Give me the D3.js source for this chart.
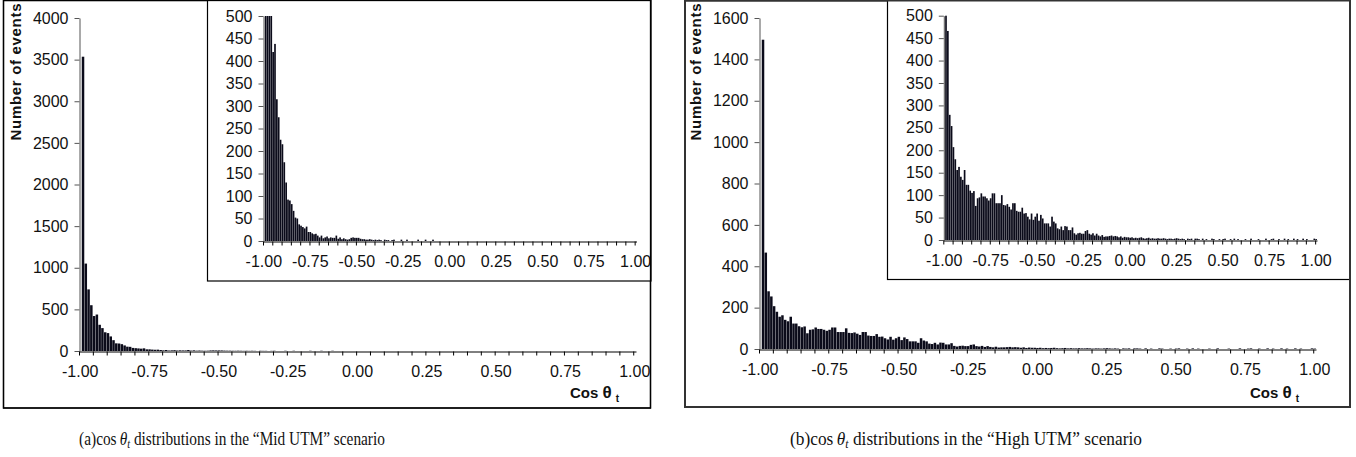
<!DOCTYPE html>
<html>
<head>
<meta charset="utf-8">
<script src="https://cdn.jsdelivr.net/npm/d3@7/dist/d3.min.js"></script>
<style>
  body { margin: 0; background: #fff; }
  svg { display: block; }
  .lbl { font-family: "Liberation Sans", Arial, sans-serif; fill: #111; }
  .cap { font-family: "Liberation Serif", "DejaVu Serif", serif; fill: #111; }
</style>
</head>
<body>
<svg id="chart" width="1356" height="457"></svg>
<script>
// histogram bins: cos(theta_t) from -1.00 to 1.00 in steps of 0.01 (201 categories)
var binLabels = d3.range(201).map(function (i) { return ((i - 100) / 100).toFixed(2); });

// "Mid UTM" scenario counts
var midCounts = [
  0, 3535, 1050, 740, 550, 420, 438, 315, 275, 225,
  215, 175, 130, 92, 90, 82, 67, 52, 50, 37,
  34, 31, 28, 32, 20, 20, 17, 15, 16, 12,
  8, 12, 6, 8, 10, 6, 8, 7, 7, 12,
  5, 8, 4, 6, 4, 3, 4, 7, 8, 7,
  7, 7, 5, 4, 4, 3, 3, 4, 3, 2,
  3, 2, 3, 2, 0, 3, 2, 2, 0, 2,
  3, 0, 0, 0, 3, 0, 0, 3, 0, 0,
  0, 0, 0, 3, 0, 0, 0, 3, 0, 0,
  0, 3, 0, 0, 0, 0, 0, 0, 0, 0,
  0, 0, 0, 0, 0, 0, 0, 0, 0, 0,
  0, 0, 0, 0, 0, 0, 0, 0, 0, 0,
  0, 0, 0, 0, 0, 0, 0, 0, 0, 0,
  0, 0, 0, 0, 0, 0, 0, 0, 0, 0,
  0, 0, 0, 0, 0, 0, 0, 0, 0, 0,
  0, 0, 0, 0, 0, 0, 0, 0, 0, 0,
  0, 0, 0, 0, 0, 0, 0, 0, 0, 0,
  0, 0, 0, 0, 0, 0, 0, 0, 0, 0,
  0, 0, 0, 0, 0, 0, 0, 0, 0, 0,
  0, 0, 0, 0, 0, 0, 0, 0, 0, 0,
  0
];

// "High UTM" scenario counts
var highCounts = [
  0, 1495, 466, 279, 254, 207, 180, 156, 163, 141,
  134, 156, 123, 123, 110, 105, 109, 76, 93, 95,
  104, 97, 97, 93, 88, 93, 104, 104, 82, 82,
  82, 100, 78, 77, 80, 74, 68, 82, 82, 65,
  63, 63, 72, 59, 60, 52, 46, 59, 45, 52,
  59, 43, 56, 48, 37, 37, 37, 30, 52, 41,
  37, 26, 24, 30, 22, 31, 30, 22, 22, 28,
  15, 12, 15, 16, 14, 14, 20, 22, 14, 12,
  15, 10, 14, 10, 8, 11, 7, 8, 8, 9,
  10, 8, 9, 8, 6, 8, 5, 7, 6, 6,
  5, 6, 4, 5, 4, 5, 6, 4, 3, 4,
  5, 3, 4, 3, 3, 4, 3, 3, 4, 3,
  2, 3, 3, 2, 3, 4, 3, 2, 3, 2,
  0, 3, 2, 3, 0, 3, 3, 2, 0, 3,
  0, 2, 0, 0, 3, 2, 0, 0, 2, 0,
  2, 3, 0, 0, 2, 0, 3, 0, 2, 0,
  0, 0, 2, 0, 0, 3, 0, 0, 0, 2,
  0, 0, 0, 3, 0, 0, 2, 3, 0, 0,
  2, 0, 0, 3, 0, 2, 0, 0, 3, 0,
  2, 0, 0, 3, 0, 2, 0, 0, 0, 3,
  2
];

var xTickLabels = ["-1.00", "-0.75", "-0.50", "-0.25", "0.00", "0.25", "0.50", "0.75", "1.00"];
var midYTicks = [0, 500, 1000, 1500, 2000, 2500, 3000, 3500, 4000];
var highYTicks = [0, 200, 400, 600, 800, 1000, 1200, 1400, 1600];
var insetYTicks = [0, 50, 100, 150, 200, 250, 300, 350, 400, 450, 500];
var panelTags = ["(a)", "(b)"];
var scenarioNames = ["Mid UTM", "High UTM"];

var svg = d3.select("#chart");

function drawHist(g, counts, o) {
  var xBand = d3.scaleBand().domain(binLabels).range([o.left, o.right]).paddingInner(0.1);
  var xEdge = d3.scaleLinear().domain([0, binLabels.length]).range([o.left, o.right]);
  var y = d3.scaleLinear().domain([0, o.yMax]).range([o.bottom, o.top]);

  g.append("g")
    .selectAll("rect")
    .data(counts.map(function (c, i) { return {key: binLabels[i], v: Math.min(c, o.yMax)}; })
      .filter(function (d) { return d.v > 0; }))
    .join("rect")
      .attr("x", function (d) { return xBand(d.key); })
      .attr("width", xBand.bandwidth())
      .attr("y", function (d) { return y(d.v); })
      .attr("height", function (d) { return o.bottom - y(d.v); })
      .attr("fill", "#0b0b1a");

  // y axis
  var ya = g.append("g")
    .attr("transform", "translate(" + (o.left + 0.5) + ",0)")
    .call(d3.axisLeft(y).tickValues(o.yTicks).tickFormat(d3.format("d"))
      .tickSize(5).tickSizeOuter(0).tickPadding(6));
  ya.select(".domain").attr("stroke", "#555");
  ya.selectAll(".tick line").attr("stroke", "#555");
  ya.selectAll("text").attr("class", "lbl").attr("font-size", 16).attr("fill", "#111");

  // x axis: tick marks every 5 bins
  var xa = g.append("g")
    .attr("transform", "translate(0," + (o.bottom + 0.5) + ")")
    .call(d3.axisBottom(xEdge).tickValues(d3.range(0, 201, 5)).tickFormat("").tickSize(4).tickSizeOuter(0));
  xa.select(".domain").attr("stroke", "#000");
  xa.selectAll(".tick line").attr("stroke", "#000");

  // x axis labels, centred on their bins
  var xl = g.append("g")
    .attr("transform", "translate(0," + (o.bottom + 0.5) + ")")
    .call(d3.axisBottom(xBand).tickValues(xTickLabels).tickSize(0).tickPadding(o.labelPad));
  xl.select(".domain").remove();
  xl.selectAll("text").attr("class", "lbl").attr("font-size", 16).attr("fill", "#111");
}

function drawPanel(p) {
  var g = svg.append("g");

  g.append("rect")
    .attr("x", p.box[0]).attr("y", p.box[1])
    .attr("width", p.box[2] - p.box[0]).attr("height", p.box[3] - p.box[1])
    .attr("fill", "#fff").attr("stroke", p.boxStroke).attr("stroke-width", p.boxWidth);

  drawHist(g, p.counts, p.main);

  g.append("text")
    .attr("class", "lbl")
    .attr("transform", "translate(" + p.yTitle[0] + "," + p.yTitle[1] + ") rotate(-90)")
    .attr("text-anchor", "middle")
    .attr("font-size", 15).attr("font-weight", "bold")
    .attr("textLength", 137).attr("lengthAdjust", "spacing")
    .text("Number of events");

  var xt = g.append("text")
    .attr("class", "lbl")
    .attr("x", p.xTitle[0]).attr("y", p.xTitle[1])
    .attr("font-size", 15).attr("font-weight", "bold");
  xt.append("tspan").text("Cos ");
  xt.append("tspan").attr("font-size", 17).text("\u03b8");
  xt.append("tspan").attr("font-size", 10).attr("dx", 4).attr("dy", 4).text("t");

  // inset: same data, y axis cut at 500
  var ig = g.append("g");
  ig.append("rect")
    .attr("x", p.inset[0]).attr("y", p.inset[1])
    .attr("width", p.inset[2] - p.inset[0]).attr("height", p.inset[3] - p.inset[1])
    .attr("fill", "#fff").attr("stroke", "#000").attr("stroke-width", 1.2);
  drawHist(ig, p.counts, p.insetPlot);

  // redraw the frame over the inset
  g.append("rect")
    .attr("x", p.box[0]).attr("y", p.box[1])
    .attr("width", p.box[2] - p.box[0]).attr("height", p.box[3] - p.box[1])
    .attr("fill", "none").attr("stroke", p.boxStroke).attr("stroke-width", p.boxWidth);

  // caption, squeezed horizontally to the reference width
  var capG = svg.append("g");
  var cap = capG.append("text")
    .attr("class", "cap")
    .attr("text-anchor", "middle")
    .attr("font-size", 18);
  cap.append("tspan").text(p.tag + "cos\u2009");
  cap.append("tspan").attr("font-style", "italic").text("\u03b8");
  cap.append("tspan").attr("font-style", "italic").attr("font-size", 12).attr("dy", 3).text("t");
  cap.append("tspan").attr("dy", -3).text(" distributions in the \u201c" + p.name + "\u201d scenario");
  var w = cap.node().getComputedTextLength();
  capG.attr("transform", "translate(" + p.caption[0] + "," + p.caption[1] + ") scale(" + (p.caption[2] / w) + ",1)");
}

drawPanel({
  tag: panelTags[0], name: scenarioNames[0], counts: midCounts,
  box: [3.5, 0.5, 650.5, 408], boxStroke: "#000", boxWidth: 1.3,
  main: {left: 79, right: 636, top: 18, bottom: 351, yMax: 4000, yTicks: midYTicks, labelPad: 14},
  inset: [207.5, -1, 651, 281],
  insetPlot: {left: 263, right: 636.5, top: 16, bottom: 241, yMax: 500, yTicks: insetYTicks, labelPad: 14},
  yTitle: [20.5, 72], xTitle: [570, 398],
  caption: [232, 445, 306]
});

drawPanel({
  tag: panelTags[1], name: scenarioNames[1], counts: highCounts,
  box: [685, 0.5, 1350, 407], boxStroke: "#333", boxWidth: 2,
  main: {left: 759, right: 1316, top: 18, bottom: 349, yMax: 1600, yTicks: highYTicks, labelPad: 14},
  inset: [887.5, -1, 1350, 279.5],
  insetPlot: {left: 943.3, right: 1317, top: 15.7, bottom: 240, yMax: 500, yTicks: insetYTicks, labelPad: 14},
  yTitle: [700.5, 72], xTitle: [1250, 398],
  caption: [966, 445, 352]
});
</script>
</body>
</html>
